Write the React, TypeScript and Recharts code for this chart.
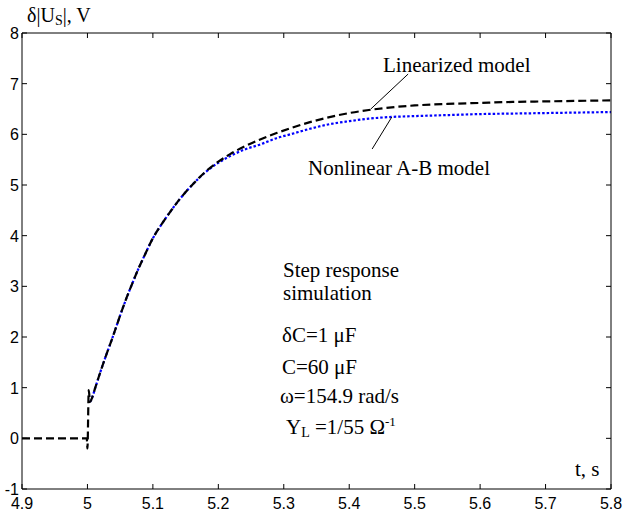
import { LineChart, Line, XAxis, YAxis, ReferenceLine } from "recharts";

// axis ticks
const xTicks = [4.9, 5, 5.1, 5.2, 5.3, 5.4, 5.5, 5.6, 5.7, 5.8];
const yTicks = [-1, 0, 1, 2, 3, 4, 5, 6, 7, 8];

// linearized model (black dashed)
const linT = [
  4.9, 4.999, 5.0, 5.002, 5.004, 5.0065, 5.012, 5.019, 5.028, 5.037, 5.045, 5.052, 5.06,
  5.068, 5.078, 5.088, 5.1, 5.113, 5.127, 5.141, 5.16, 5.182, 5.2, 5.218, 5.24, 5.264,
  5.29, 5.31, 5.34, 5.37, 5.4, 5.43, 5.47, 5.5, 5.55, 5.6, 5.65, 5.7, 5.75, 5.8,
];
const linV = [
  0, 0, -0.2, 0.95, 0.72, 0.78, 1.0, 1.28, 1.62, 1.94, 2.24, 2.5, 2.78,
  3.04, 3.35, 3.63, 3.95, 4.22, 4.48, 4.72, 5.0, 5.28, 5.46, 5.61, 5.76, 5.9,
  6.03, 6.12, 6.24, 6.34, 6.42, 6.48, 6.54, 6.57, 6.6, 6.62, 6.64, 6.65, 6.66, 6.67,
];

// nonlinear A-B model (blue dotted)
const nlT = [
  5.004, 5.0065, 5.012, 5.019, 5.028, 5.037, 5.045, 5.052, 5.06, 5.068, 5.078, 5.088,
  5.1, 5.113, 5.127, 5.141, 5.16, 5.182, 5.2, 5.218, 5.24, 5.264, 5.29, 5.31, 5.34,
  5.37, 5.4, 5.43, 5.46, 5.5, 5.55, 5.6, 5.65, 5.7, 5.75, 5.8,
];
const nlV = [
  0.72, 0.78, 1.0, 1.28, 1.62, 1.94, 2.24, 2.5, 2.78, 3.04, 3.35, 3.63,
  3.95, 4.22, 4.48, 4.72, 5.0, 5.27, 5.44, 5.57, 5.7, 5.8, 5.93, 6.0, 6.11,
  6.2, 6.26, 6.31, 6.34, 6.36, 6.38, 6.4, 6.41, 6.42, 6.43, 6.44,
];

const linData = linT.map((t, i) => ({ t, v: linV[i] }));
const nlData = nlT.map((t, i) => ({ t, v: nlV[i] }));

const sansStyle = { fontFamily: "'Liberation Sans', Arial, sans-serif" };
const serifStyle = { fontFamily: "'Liberation Serif', 'Times New Roman', 'DejaVu Serif', serif" };
const TL = 5; // inward tick length

function BottomTick(p: any) {
  const { x, y, payload } = p;
  return (
    <g>
      <line x1={x} y1={y} x2={x} y2={y - TL} stroke="#000" />
      <text x={x} y={y + 20} textAnchor="middle" style={sansStyle} fontSize={16} fill="#000">
        {String(payload.value)}
      </text>
    </g>
  );
}

function TopTick(p: any) {
  const { x, y } = p;
  return <line x1={x} y1={y} x2={x} y2={y + TL} stroke="#000" />;
}

function LeftTick(p: any) {
  const { x, y, payload } = p;
  return (
    <g>
      <line x1={x} y1={y} x2={x + TL} y2={y} stroke="#000" />
      <text x={x - 3} y={y + 6} textAnchor="end" style={sansStyle} fontSize={16} fill="#000">
        {String(payload.value)}
      </text>
    </g>
  );
}

function RightTick(p: any) {
  const { x, y } = p;
  return <line x1={x} y1={y} x2={x - TL} y2={y} stroke="#000" />;
}

function Note({ x, y, size = 21, children }: { x: number; y: number; size?: number; children: any }) {
  return (
    <text x={x} y={y} style={{ ...serifStyle, fontSize: size }} fill="#000">
      {children}
    </text>
  );
}

export default function App() {
  return (
    <div style={{ position: "absolute", left: 0, top: 0, width: 624, height: 515, background: "#fff" }}>
      <LineChart width={624} height={515} margin={{ top: 0, right: 0, bottom: 0, left: 0 }}>
        <XAxis
          xAxisId="b"
          type="number"
          dataKey="t"
          domain={[4.9, 5.8]}
          allowDataOverflow
          ticks={xTicks}
          height={26}
          tickSize={0}
          tickMargin={0}
          tickLine={false}
          axisLine={{ stroke: "#000" }}
          tick={(p: any) => <BottomTick {...p} />}
        />
        <XAxis
          xAxisId="t"
          orientation="top"
          type="number"
          dataKey="t"
          domain={[4.9, 5.8]}
          allowDataOverflow
          ticks={xTicks}
          height={33}
          tickSize={0}
          tickMargin={0}
          tickLine={false}
          axisLine={{ stroke: "#000" }}
          tick={(p: any) => <TopTick {...p} />}
        />
        <YAxis
          yAxisId="l"
          type="number"
          domain={[-1, 8]}
          allowDataOverflow
          ticks={yTicks}
          width={22}
          tickSize={0}
          tickMargin={0}
          tickLine={false}
          axisLine={{ stroke: "#000" }}
          tick={(p: any) => <LeftTick {...p} />}
        />
        <YAxis
          yAxisId="r"
          orientation="right"
          type="number"
          domain={[-1, 8]}
          allowDataOverflow
          ticks={yTicks}
          width={13}
          tickSize={0}
          tickMargin={0}
          tickLine={false}
          axisLine={{ stroke: "#000" }}
          tick={(p: any) => <RightTick {...p} />}
        />
        <Line
          xAxisId="b"
          yAxisId="l"
          data={nlData}
          dataKey="v"
          type="monotone"
          stroke="#0000ff"
          strokeWidth={2.2}
          strokeDasharray="2.5 2"
          dot={false}
          isAnimationActive={false}
        />
        <Line
          xAxisId="b"
          yAxisId="l"
          data={linData}
          dataKey="v"
          type="monotone"
          stroke="#000"
          strokeWidth={2.2}
          strokeDasharray="8 4"
          dot={false}
          isAnimationActive={false}
        />
        <ReferenceLine
          xAxisId="b"
          yAxisId="l"
          segment={[{ x: 5.49, y: 7.19 }, { x: 5.433, y: 6.5 }]}
          stroke="#000"
          strokeWidth={1}
        />
        <ReferenceLine
          xAxisId="b"
          yAxisId="l"
          segment={[{ x: 5.465, y: 6.34 }, { x: 5.435, y: 5.71 }]}
          stroke="#000"
          strokeWidth={1}
        />
        <Note x={27} y={22} size={20}>
          δ|U<tspan style={{ fontSize: 14 }} dy={3}>S</tspan>
          <tspan dy={-3}>|, V</tspan>
        </Note>
        <Note x={383} y={72}>Linearized model</Note>
        <Note x={308} y={175}>Nonlinear A-B model</Note>
        <Note x={283} y={277}>Step response</Note>
        <Note x={283} y={300}>simulation</Note>
        <Note x={282} y={342}>δC=1 μF</Note>
        <Note x={282} y={374}>C=60 μF</Note>
        <Note x={280} y={403}>ω=154.9 rad/s</Note>
        <Note x={286} y={434}>
          Y<tspan style={{ fontSize: 14 }} dy={3}>L</tspan>
          <tspan dy={-3}> =1/55 Ω</tspan>
          <tspan style={{ fontSize: 13 }} dy={-8}>-1</tspan>
        </Note>
        <Note x={575} y={476}>t, s</Note>
      </LineChart>
    </div>
  );
}
